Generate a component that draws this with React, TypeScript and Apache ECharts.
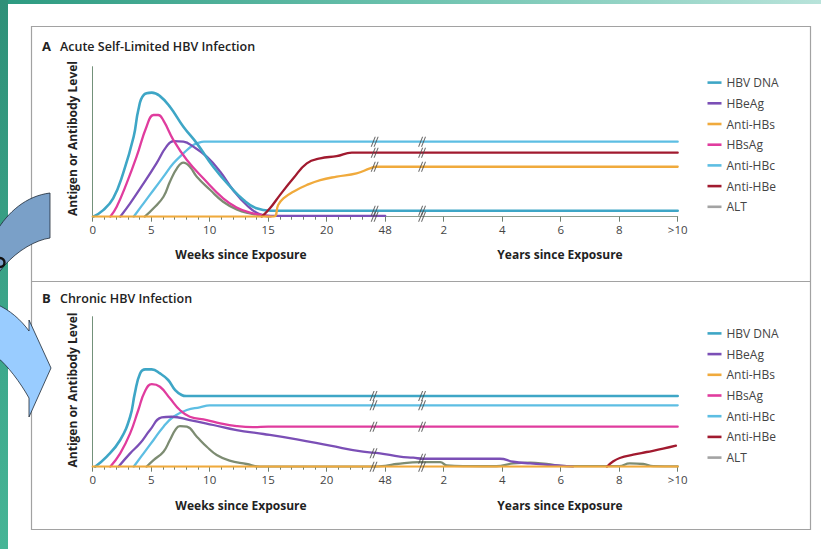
import React, { useEffect, useRef } from 'react';
import * as echarts from 'echarts';

// Broken time axis: positions 0..10 are the labelled ticks
const tickLabels = ['0', '5', '10', '15', '20', '48', '2', '4', '6', '8', '>10'];
const legendNames = ['HBV DNA', 'HBeAg', 'Anti-HBs', 'HBsAg', 'Anti-HBc', 'Anti-HBe', 'ALT'];
const colors: Record<string, string> = {
  'HBV DNA': '#3ea6c6',
  HBeAg: '#7b4fb6',
  'Anti-HBs': '#f0aa3c',
  HBsAg: '#e03c9e',
  'Anti-HBc': '#5dbee3',
  'Anti-HBe': '#a11a2f',
  ALT: '#7d8c72',
};

// Panel A — acute self-limited infection: [axis position, level]
const hbvDnaA = [[0.01, 0], [0.18, 4.4], [0.35, 12.2], [0.52, 28.9], [0.7, 53.3], [0.78, 71.1], [0.87, 81.1], [1.01, 82.7], [1.15, 80.4], [1.32, 73.3], [1.55, 60], [1.78, 48.9], [2.06, 33.3], [2.35, 20], [2.58, 11.1], [2.8, 5.6], [3.04, 4], [10, 4]];
const hbeAgA = [[0.47, 0], [0.64, 8.9], [0.87, 22.2], [1.09, 35.6], [1.26, 46.7], [1.38, 50.4], [1.55, 50], [1.72, 46.7], [1.95, 40], [2.18, 30], [2.4, 17.8], [2.63, 7.8], [2.86, 1.6], [3.04, 0.6], [5, 0.6]];
const antiHbsA = [[0, 0], [3.09, 0], [3.17, 7.8], [3.26, 12.2], [3.43, 16.7], [3.66, 21.1], [3.89, 24.4], [4.17, 26.7], [4.51, 28.9], [4.74, 32.2], [4.85, 33.3], [10, 33.3]];
const hbsAgA = [[0.3, 0], [0.41, 6.7], [0.58, 22.2], [0.75, 40], [0.92, 60], [1.04, 67.8], [1.12, 67.8], [1.21, 64], [1.38, 51.1], [1.61, 37.8], [1.89, 25.6], [2.23, 12.2], [2.46, 6.2], [2.69, 2.7], [2.92, 0.9], [3.04, 0]];
const antiHbcA = [[0.7, 0], [0.87, 8.9], [1.04, 17.8], [1.21, 26.7], [1.38, 35.6], [1.55, 42.2], [1.72, 47.8], [1.83, 49.6], [1.9, 50], [10, 50]];
const antiHbeA = [[2.89, 0], [3.03, 5.6], [3.2, 14.4], [3.43, 25.6], [3.66, 35.6], [3.89, 38.9], [4.17, 40.4], [4.43, 42.7], [10, 42.7]];
const altA = [[0.89, 0], [1.04, 5.6], [1.21, 13.3], [1.32, 23.3], [1.44, 32.2], [1.55, 36], [1.66, 33.3], [1.78, 26.7], [2.01, 17.8], [2.23, 10], [2.46, 4.9], [2.69, 2.2], [2.92, 0.7], [3.0, 0]];
const breaksA = [[4.82, 50], [4.82, 42.7], [4.82, 33.3], [4.82, 4], [4.82, 0], [5.63, 50], [5.63, 42.7], [5.63, 33.3], [5.63, 4], [5.63, 0]];

// Panel B — chronic infection
const hbvDnaB = [[0.04, 0], [0.24, 6.7], [0.47, 17.8], [0.64, 33.3], [0.72, 48.9], [0.81, 62.2], [0.9, 64.9], [1.01, 64.9], [1.15, 62.2], [1.29, 57.8], [1.41, 51.1], [1.52, 47.8], [1.6, 47.1], [10, 47.1]];
const hbeAgB = [[0.44, 0], [0.64, 8.9], [0.81, 15.6], [0.98, 24.4], [1.18, 32.9], [1.35, 33.3], [1.66, 31.1], [2.06, 27.8], [2.46, 24.4], [2.92, 21.8], [3.49, 18.2], [4.06, 14], [4.62, 10], [4.91, 8.9], [5.25, 6.7], [5.48, 6], [5.65, 5.3], [5.94, 5.3], [6.96, 5.3], [7.19, 3.3], [7.48, 2.2], [7.87, 1.1], [8.21, 0]];
const antiHbsB = [[0, 0], [10, 0]];
const hbsAgB = [[0.3, 0], [0.47, 8.9], [0.64, 22.2], [0.78, 37.8], [0.89, 50], [1.01, 55.1], [1.15, 53.3], [1.32, 45.6], [1.49, 37.8], [1.66, 33.3], [1.95, 31.1], [2.18, 28.9], [2.46, 27.1], [2.74, 26.4], [3.0, 26.7], [10, 26.7]];
const antiHbcB = [[0.7, 0], [0.87, 8.9], [1.04, 17.8], [1.21, 26.7], [1.38, 33.3], [1.61, 37.8], [1.83, 39.6], [2.0, 40.9], [10, 40.9]];
const antiHbeB = [[8.79, 0], [8.9, 3.6], [9.01, 5.8], [9.24, 8], [9.47, 9.8], [9.75, 12], [9.97, 14]];
const altB = [[0.92, 0], [1.04, 4.4], [1.21, 10], [1.32, 17.8], [1.41, 24.4], [1.49, 27.1], [1.61, 26.7], [1.78, 20], [1.95, 13.3], [2.12, 7.8], [2.34, 4], [2.63, 1.8], [2.86, 0], [4.7, 0], [5.0, 0.6], [5.2, 1.8], [5.6, 3.1], [5.94, 3.1], [6.05, 0.9], [6.39, 0.4], [6.9, 0.3], [7.19, 2.2], [7.48, 2.7], [7.76, 1.8], [8.1, 0.4], [9.0, 0.4], [9.18, 2.2], [9.41, 1.8], [9.58, 0.4], [10, 0.2]];
const breaksB = [[4.8, 47.1], [4.8, 40.9], [4.8, 26.7], [4.8, 8.9], [4.8, 0], [5.63, 47.1], [5.63, 40.9], [5.63, 26.7], [5.63, 5.3], [5.63, 0]];

const majorTickPos = tickLabels.map((_, i) => i);
const minorTickPos: number[] = [];
for (let w = 1; w <= 23; w++) if (w % 5) minorTickPos.push(w / 5);

const FONT = '"Open Sans", "Noto Sans", sans-serif';

echarts.graphic.registerShape(
  'arrowDark',
  echarts.graphic.extendPath('M50,193 L50,238 C36,240 18,250 4,266 L-4,276 L-4,232 C8,212 26,196 50,193 Z', {})
);
echarts.graphic.registerShape(
  'arrowLight',
  echarts.graphic.extendPath('M-4,304 C10,310 21,320 29,331 L29,320 L51,368 L29,417 L29,398 C20,382 8,366 -4,356 Z', {})
);

function buildOption() {
  const grids = [
    { left: 92.7, top: 66.7, width: 585, height: 150 },
    { left: 92.7, top: 316.7, width: 585, height: 150 },
  ];
  const xAxes: any[] = [];
  const yAxes: any[] = [];
  grids.forEach((_, gi) => {
    xAxes.push({
      type: 'value', gridIndex: gi, min: 0, max: 10, position: 'bottom',
      axisLine: { show: true, onZero: false, lineStyle: { color: '#8d9c8d', width: 1 } },
      axisTick: { show: true, customValues: majorTickPos, length: 5, lineStyle: { color: '#6f7f6f', width: 1 } },
      axisLabel: {
        show: true, customValues: majorTickPos, margin: 7, fontSize: 11.5, color: '#444', fontFamily: FONT,
        formatter: (v: number) => tickLabels[Math.round(v)],
      },
      splitLine: { show: false },
    });
    xAxes.push({
      type: 'value', gridIndex: gi, min: 0, max: 10, position: 'bottom',
      axisLine: { show: false, onZero: false },
      axisTick: { show: true, customValues: minorTickPos, length: 3, lineStyle: { color: '#6f7f6f', width: 1 } },
      axisLabel: { show: false },
      splitLine: { show: false },
    });
    yAxes.push({
      type: 'value', gridIndex: gi, min: 0, max: 100,
      axisLine: { show: true, lineStyle: { color: '#73917a', width: 1 } },
      axisTick: { show: false }, axisLabel: { show: false }, splitLine: { show: false },
    });
  });

  const line = (name: string, data: number[][], gi: number, z: number, width = 2.3) => ({
    type: 'line', name, data, xAxisIndex: gi * 2, yAxisIndex: gi,
    symbol: 'none', smooth: 0.45, z,
    lineStyle: { color: colors[name], width, cap: 'round', join: 'round' }, itemStyle: { color: colors[name] },
  });
  const breaks = (data: number[][], gi: number) => ({
    type: 'scatter', name: 'break', data, xAxisIndex: gi * 2, yAxisIndex: gi, z: 20,
    symbol: 'path://M0,12 L5,0 L6.4,0 L1.4,12 Z M3.6,12 L8.6,0 L10,0 L5,12 Z',
    symbolSize: [8, 10], itemStyle: { color: '#4a4a4a' }, silent: true,
  });

  const series = [
    line('ALT', altA, 0, 2), line('Anti-HBc', antiHbcA, 0, 3), line('HBeAg', hbeAgA, 0, 4),
    line('HBsAg', hbsAgA, 0, 5), line('HBV DNA', hbvDnaA, 0, 6, 2.6), line('Anti-HBe', antiHbeA, 0, 7),
    line('Anti-HBs', antiHbsA, 0, 8), breaks(breaksA, 0),
    line('ALT', altB, 1, 2), line('Anti-HBc', antiHbcB, 1, 3), line('HBeAg', hbeAgB, 1, 4),
    line('HBsAg', hbsAgB, 1, 5), line('HBV DNA', hbvDnaB, 1, 6, 2.6), line('Anti-HBe', antiHbeB, 1, 7),
    line('Anti-HBs', antiHbsB, 1, 8), breaks(breaksB, 1),
  ];

  const legendData = legendNames.map((n) => ({
    name: n, itemStyle: { color: n === 'ALT' ? '#a3a3a3' : colors[n] },
  }));
  const legend = (top: number) => ({
    orient: 'vertical', left: 702.5, top, icon: 'rect', itemWidth: 14, itemHeight: 2.6,
    itemGap: 6.7, selectedMode: false, data: legendData,
    textStyle: { fontFamily: FONT, fontSize: 12, color: '#444', lineHeight: 14 },
  });

  const txt = (text: string, x: number, y: number, size: number, weight: any, align = 'left', extra: any = {}) => ({
    type: 'text', x, y, silent: true, z: 10, ...extra,
    style: { text, fontFamily: FONT, fontSize: size, fontWeight: weight, fill: '#222', textAlign: align, textVerticalAlign: 'middle' },
  });

  const graphic = [
    { type: 'rect', shape: { x: 0, y: 0, width: 821, height: 4 }, z: 0, silent: true,
      style: { fill: new echarts.graphic.LinearGradient(0, 0, 1, 0, [{ offset: 0, color: '#2c9a80' }, { offset: 0.5, color: '#6cc2ae' }, { offset: 1, color: '#b8e3da' }]) } },
    { type: 'rect', shape: { x: 0, y: 0, width: 8, height: 549 }, z: 0, silent: true,
      style: { fill: new echarts.graphic.LinearGradient(0, 0, 0, 1, [{ offset: 0, color: '#2e9078' }, { offset: 1, color: '#46b596' }]) } },
    { type: 'rect', shape: { x: 31.5, y: 26.5, width: 779, height: 503 }, z: 1, silent: true,
      style: { fill: 'none', stroke: '#a2a2a2', lineWidth: 1.2 } },
    { type: 'line', shape: { x1: 31.5, y1: 281.5, x2: 810.5, y2: 281.5 }, z: 1, silent: true,
      style: { stroke: '#a2a2a2', lineWidth: 1 } },
    { type: 'arrowDark', x: 0, y: 0, z: 30, silent: true, style: { fill: '#7aa0c8', stroke: '#1e2a36', lineWidth: 0.8 } },
    { type: 'arrowLight', x: 0, y: 0, z: 30, silent: true, style: { fill: '#99ccff', stroke: '#1e2a36', lineWidth: 0.8 } },
    { type: 'arc', z: 31, silent: true, shape: { cx: 0, cy: 262.5, r: 4.5, startAngle: -Math.PI / 2, endAngle: Math.PI / 2 },
      style: { stroke: '#111', lineWidth: 2.4, fill: 'none' } },
    txt('A', 42, 46, 13, 'bold'),
    txt('Acute Self-Limited HBV Infection', 60, 46, 12.5, 600),
    txt('B', 42, 298, 13, 'bold'),
    txt('Chronic HBV Infection', 60, 298, 12.5, 600),
    txt('Antigen or Antibody Level', 72, 138.5, 12, 'bold', 'center', { rotation: Math.PI / 2 }),
    txt('Antigen or Antibody Level', 72, 390, 12, 'bold', 'center', { rotation: Math.PI / 2 }),
    txt('Weeks since Exposure', 241, 254, 12, 'bold', 'center'),
    txt('Years since Exposure', 560, 254, 12, 'bold', 'center'),
    txt('Weeks since Exposure', 241, 505, 12, 'bold', 'center'),
    txt('Years since Exposure', 560, 505, 12, 'bold', 'center'),
  ];

  return {
    animation: false,
    backgroundColor: '#ffffff',
    grid: grids,
    xAxis: xAxes,
    yAxis: yAxes,
    legend: [legend(70.6), legend(321.4)],
    series,
    graphic,
  };
}

export default function App() {
  const ref = useRef<HTMLDivElement>(null);
  useEffect(() => {
    if (!ref.current) return;
    const chart = echarts.init(ref.current, undefined, { renderer: 'svg' });
    chart.setOption(buildOption() as any);
    return () => chart.dispose();
  }, []);
  return <div ref={ref} style={{ position: 'fixed', left: 0, top: 0, width: 821, height: 549 }} />;
}
